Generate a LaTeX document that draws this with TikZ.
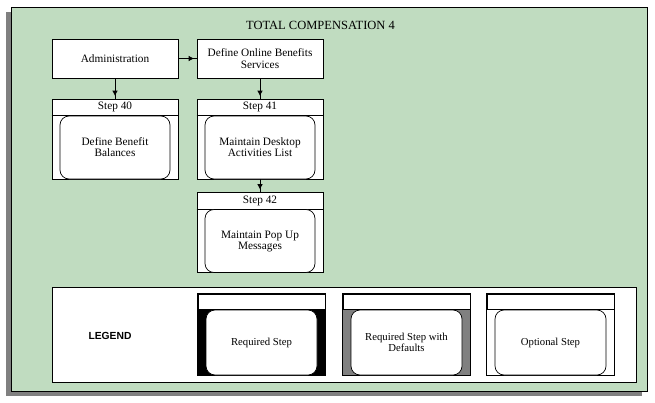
\documentclass[tikz,border=0pt]{standalone}
\usepackage{fontspec}
\setmainfont{Liberation Serif}
\newfontfamily\legendfont{Liberation Sans}
\usetikzlibrary{arrows.meta}
\definecolor{panelgreen}{RGB}{192,220,192}
\definecolor{shadowgray}{RGB}{128,128,128}
\begin{document}
\begin{tikzpicture}[x = 1pt, y = -1pt,
                box/.style = {draw = black, fill = white, line width = 0.8pt, minimum width = 126pt, minimum height = 39pt, inner sep = 0pt, align = center, font = \fontsize{11.3}{11.8}\selectfont},
                stepframe/.style = {draw = black, fill = white, line width = 0.8pt, minimum width = 126pt, minimum height = 80pt, inner sep = 0pt},
                stepbody/.style = {draw = black, fill = white, line width = 0.7pt, rounded corners = 9pt, minimum width = 110pt, minimum height = 63pt, inner sep = 0pt, align = center, font = \fontsize{11.3}{11}\selectfont},
                steplabel/.style = {inner sep = 0pt, font = \fontsize{11.3}{12}\selectfont},
                keyframe/.style = {draw = black, fill = white, line width = 0.8pt, minimum width = 127pt, minimum height = 81pt, inner sep = 0pt},
                keybody/.style = {draw = black, fill = white, line width = 0.7pt, rounded corners = 9pt, minimum width = 111pt, minimum height = 65pt, inner sep = 0pt, align = center, font = \fontsize{10.7}{11}\selectfont},
                link/.style = {draw = black, line width = 0.8pt, postaction = {draw, -{Triangle[length = 5pt, width = 5pt]}, shorten >= 3pt}}]
                \useasboundingbox (0, 0) rectangle (655, 402);
                \fill[shadowgray] (6, 12) rectangle (642, 396);
                \draw[fill = panelgreen, line width = 0.8pt] (11, 7) rectangle (647, 391);
                \node[font = \fontsize{12.5}{14}\selectfont] (title) at (320.5, 25) {TOTAL COMPENSATION 4};
                \node[box] (adm) at (115, 58.5) {Administration};
                \node[box] (onl) at (260, 58.5) {Define Online Benefits\\Services};
                \foreach \n/\x/\y/\txt in {40/115/139/{Define Benefit\\Balances}, 41/260/139/{Maintain Desktop\\Activities List}, 42/260/232.5/{Maintain Pop Up\\Messages}}{
                    \node[stepframe] (s\n) at (\x, \y) {};
                    \draw[line width = 0.8pt] ([yshift = -17pt]s\n.north west) -- ([yshift = -17pt]s\n.north east);
                    \node[steplabel] (s\n-label) at ([yshift = -8.5pt]s\n.north) {Step \n};
                    \node[stepbody] (s\n-body) at ([yshift = -8.5pt]s\n.center) {\txt};
                }
                \draw[link] (adm) -- (onl);
                \draw[link] (adm) -- (s40);
                \draw[link] (onl) -- (s41);
                \draw[link] (s41) -- (s42);
                \node[draw = black, fill = white, line width = 0.8pt, minimum width = 584pt, minimum height = 95pt, inner sep = 0pt] (legend) at (344, 334.5) {};
                \node[font = \legendfont\bfseries\fontsize{10.3}{12}\selectfont] (legend-title) at (110, 336) {LEGEND};
                \foreach \n/\x/\col/\txt in {req/261.5/black/{Required Step}, def/406.5/shadowgray/{Required Step with\\Defaults}, opt/550.5/white/{Optional Step}}{
                    \node[keyframe] (k\n) at (\x, 334.5) {};
                    \fill[\col] ([yshift = -16pt]k\n.north west) rectangle (k\n.south east);
                    \draw[line width = 0.8pt] (k\n.north west) rectangle (k\n.south east);
                    \draw[line width = 0.8pt] ([yshift = -16pt]k\n.north west) -- ([yshift = -16pt]k\n.north east);
                    \node[keybody] (k\n-body) at ([yshift = -8pt]k\n.center) {\txt};
                }
            \end{tikzpicture}
\end{document}
